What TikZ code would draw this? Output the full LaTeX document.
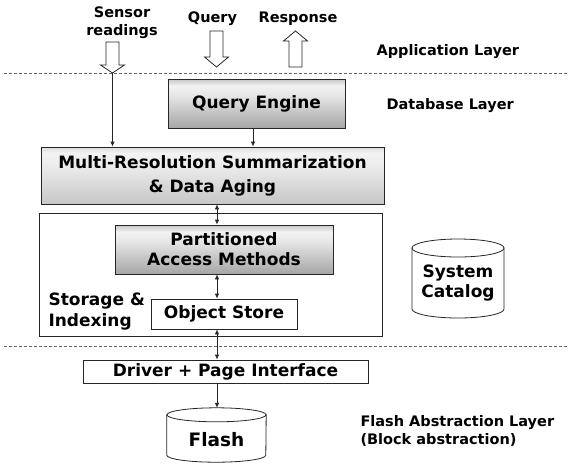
\documentclass[tikz,border=0pt]{standalone}
\usepackage{fontspec}
\setmainfont{DejaVu Sans}
\usetikzlibrary{arrows.meta,shadows,calc}
\pgfdeclareverticalshading{gboxshade}{100bp}{color(0bp)=(black!35); color(25bp)=(black!35); color(58bp)=(black!10); color(68bp)=(black!5); color(75bp)=(black!22); color(100bp)=(black!22)}
\pgfdeclareverticalshading{mboxshade}{100bp}{color(0bp)=(black!22); color(25bp)=(black!22); color(60bp)=(black!7); color(70bp)=(black!5); color(75bp)=(black!14); color(100bp)=(black!14)}
\tikzset{
  bigtxt/.style={font=\fontsize{17}{20}\selectfont\bfseries},
  sidetxt/.style={font=\fontsize{14.5}{18}\selectfont\bfseries},
  plainbox/.style={draw=black!85, line width=0.8pt, fill=white, inner sep=0pt, bigtxt, align=center},
  gradbox/.style={plainbox, shading=gboxshade,
     drop shadow={shadow xshift=0.9pt, shadow yshift=-1.2pt, fill=black!75, opacity=1}},
  multbox/.style={plainbox, shading=mboxshade,
     drop shadow={shadow xshift=0.9pt, shadow yshift=-1.2pt, fill=black!75, opacity=1}},
  thinarr/.style={draw=black!85, line width=0.8pt, -{Latex[length=5pt,width=4.5pt]}},
  dblarr/.style={draw=black!85, line width=0.8pt, {Latex[length=5pt,width=4.5pt]}-{Latex[length=5pt,width=4.5pt]}},
  hollow/.style={draw=black!85, line width=0.8pt, fill=white, line join=miter},
  layerline/.style={draw=black!60, line width=0.8pt, dash pattern=on 3pt off 2pt},
  cyl/.style={draw=black!85, line width=0.8pt, fill=white},
}
\begin{document}
\begin{tikzpicture}[x=1pt,y=-1pt]
\useasboundingbox (0,0) rectangle (569,464);

% layer separators
\draw[layerline] (4,73) -- (569,73);
\draw[layerline] (4,346) -- (569,346);

% top labels
\node[sidetxt, align=center] (sensorlbl) at (122,23) {Sensor\\readings};
\node[sidetxt] (querylbl) at (212.5,19) {Query};
\node[sidetxt] (resplbl) at (298,19) {Response};
\node[sidetxt, anchor=west] (applbl) at (373,52) {Application Layer};
\node[sidetxt, anchor=west] (dblbl) at (383,106) {Database Layer};
\node[sidetxt, anchor=west, align=left] (flashlbl) at (357,431) {Flash Abstraction Layer\\(Block abstraction)};

% hollow arrows
\draw[hollow] (106,42) -- (119,42) -- (119,65) -- (124.5,65) -- (112.5,73) -- (100.5,65) -- (106,65) -- cycle;
\coordinate (sensortip) at (112.5,73);
\draw[hollow] (210,31) -- (223,31) -- (223,57) -- (228.5,57) -- (216.5,67) -- (204.5,57) -- (210,57) -- cycle;
\draw[hollow] (289,67) -- (302,67) -- (302,41) -- (307.5,41) -- (295.5,31) -- (283.5,41) -- (289,41) -- cycle;

% boxes
\node[gradbox, minimum width=177pt, minimum height=49pt] (qe) at (256.5,103.5) {Query Engine};
\node[multbox, minimum width=343pt, minimum height=57pt, font=\fontsize{17}{24}\selectfont\bfseries] (mr) at (212.5,175.5) {Multi-Resolution Summarization\\\& Data Aging};
\node[draw=black!85, line width=0.8pt, minimum width=343pt, minimum height=123pt, inner sep=0pt] (st) at (210.5,274.5) {};
\node[gradbox, minimum width=218pt, minimum height=49pt] (pam) at (224,249.5) {Partitioned\\Access Methods};
\node[plainbox, minimum width=146pt, minimum height=30pt] (os) at (224,314) {Object Store};
\node[bigtxt, anchor=west, align=left, font=\fontsize{17}{21}\selectfont\bfseries] (stlbl) at (45,311.5) {Storage \&\\Indexing};
\node[plainbox, minimum width=285pt, minimum height=23pt] (drv) at (225.5,371.5) {Driver + Page Interface};

% flash cylinder
\node[minimum width=99pt, minimum height=54pt, inner sep=0pt, font=\fontsize{18.5}{22}\selectfont\bfseries, text height=23pt, text depth=0pt] (flash) at (216.5,435) {};
\draw[cyl] ([yshift=-7pt]flash.north west) -- ([yshift=7pt]flash.south west)
   arc[start angle=180, end angle=360, x radius=49.5pt, y radius=7pt]
   -- ([yshift=-7pt]flash.north east) -- cycle;
\draw[cyl] ([yshift=-7pt]flash.north) ellipse [x radius=49.5pt, y radius=7pt];
\node[font=\fontsize{18.5}{22}\selectfont\bfseries] (flashtxt) at (216.5,440) {Flash};

% system catalog cylinder
\draw[cyl] (412,248) -- (412,309) arc[start angle=180, end angle=360, x radius=46pt, y radius=9pt] -- (504,248) -- cycle;
\draw[cyl] (458,248) ellipse [x radius=46pt, y radius=9pt];
\node[bigtxt, align=center] (sc) at (458,283) {System\\Catalog};

% connectors
\coordinate (ax) at (217,0);
\draw[thinarr] (sensortip) -- (sensortip |- mr.north);
\draw[thinarr] ([xshift=-3.5pt]qe.south) -- ([xshift=-3.5pt]qe.south |- mr.north);
\draw[dblarr] (ax |- mr.south) -- (ax |- pam.north);
\draw[dblarr] (ax |- pam.south) -- (ax |- os.north);
\draw[dblarr] (ax |- os.south) -- (ax |- drv.north);
\draw[thinarr] (ax |- drv.south) -- (ax |- flash.north);
\end{tikzpicture}
\end{document}
